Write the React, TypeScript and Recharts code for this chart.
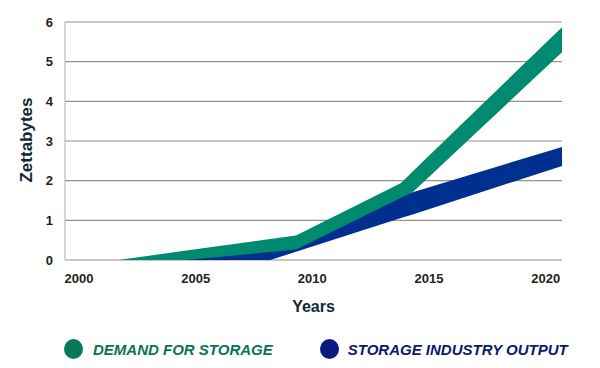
import React from "react";
import {
  AreaChart,
  Area,
  XAxis,
  YAxis,
  CartesianGrid,
} from "recharts";

// years where one of the band edges bends
const years = [2001.7, 2004.6, 2008.2, 2009.3, 2013.8, 2014.3, 2020.7];

// demand for storage, lower / upper edge of the band (ZB)
const demandLow = [-0.16, 0, 0.2, 0.265, 1.57, 1.71, 5.24];
const demandHigh = [0, 0.24, 0.53, 0.62, 1.94, 2.23, 5.87];

// storage industry output, lower / upper edge of the band (ZB)
const outputLow = [null, -0.68, 0.0, 0.21, 1.06, 1.15, 2.37];
const outputHigh = [null, 0.05, 0.25, 0.32, 1.62, 1.71, 2.85];

const yearTicks = [2000, 2005, 2010, 2015, 2020];
const valueTicks = [0, 1, 2, 3, 4, 5, 6];

const GREEN = "#008a70";
const BLUE = "#00308f";
const FONT = "'Liberation Sans', Arial, sans-serif";

const data = years.map((year, i) => ({
  year,
  demand: [demandLow[i], demandHigh[i]],
  output: outputLow[i] == null ? null : [outputLow[i], outputHigh[i]],
}));

const tickStyle = { fontSize: 13, fontWeight: 700, fill: "#231f20", fontFamily: FONT };

const App: React.FC = () => {
  return (
    <div
      style={{
        position: "absolute",
        left: 0,
        top: 0,
        width: 600,
        height: 368,
        background: "#fff",
        fontFamily: FONT,
      }}
    >
      <AreaChart
        width={600}
        height={368}
        data={data}
        margin={{ top: 22, right: 38, left: 0, bottom: 56 }}
      >
        <CartesianGrid vertical={false} stroke="#9b9086" strokeWidth={1.2} />
        <XAxis
          type="number"
          dataKey="year"
          domain={[1999.4, 2020.7]}
          ticks={yearTicks}
          allowDataOverflow
          axisLine={false}
          tickLine={false}
          tickMargin={8}
          height={52}
          tick={tickStyle}
          label={{
            value: "Years",
            position: "insideBottom",
            offset: 0,
            style: { fontSize: 16, fontWeight: 700, fill: "#0e2a33", fontFamily: FONT },
          }}
        />
        <YAxis
          type="number"
          domain={[0, 6]}
          ticks={valueTicks}
          allowDataOverflow
          width={65}
          axisLine={{ stroke: "#b3aba3" }}
          tickLine={false}
          tickMargin={6}
          tick={tickStyle}
          label={{
            value: "Zettabytes",
            content: () => (
              <text
                x={26}
                y={140}
                transform="rotate(-90 26 140)"
                textAnchor="middle"
                dominantBaseline="central"
                style={{ fontSize: 17, fontWeight: 700, fill: "#0e2a33", fontFamily: FONT }}
              >
                Zettabytes
              </text>
            ),
          }}
        />
        <Area
          type="linear"
          dataKey="output"
          name="STORAGE INDUSTRY OUTPUT"
          stroke="none"
          fill={BLUE}
          fillOpacity={1}
          isAnimationActive={false}
        />
        <Area
          type="linear"
          dataKey="demand"
          name="DEMAND FOR STORAGE"
          stroke="none"
          fill={GREEN}
          fillOpacity={1}
          isAnimationActive={false}
        />
      </AreaChart>
      <div
        style={{
          position: "absolute",
          left: 64,
          top: 339,
          display: "flex",
          alignItems: "center",
          fontSize: 15,
          fontWeight: 700,
          fontStyle: "italic",
        }}
      >
        <span
          style={{
            width: 19,
            height: 20,
            borderRadius: "50%",
            background: "#087a5c",
            display: "inline-block",
          }}
        />
        <span style={{ color: "#087356", marginLeft: 10 }}>DEMAND FOR STORAGE</span>
        <span
          style={{
            width: 19,
            height: 20,
            borderRadius: "50%",
            background: "#0a1c80",
            display: "inline-block",
            marginLeft: 47,
          }}
        />
        <span style={{ color: "#0b186e", marginLeft: 9 }}>STORAGE INDUSTRY OUTPUT</span>
      </div>
    </div>
  );
};

export default App;
